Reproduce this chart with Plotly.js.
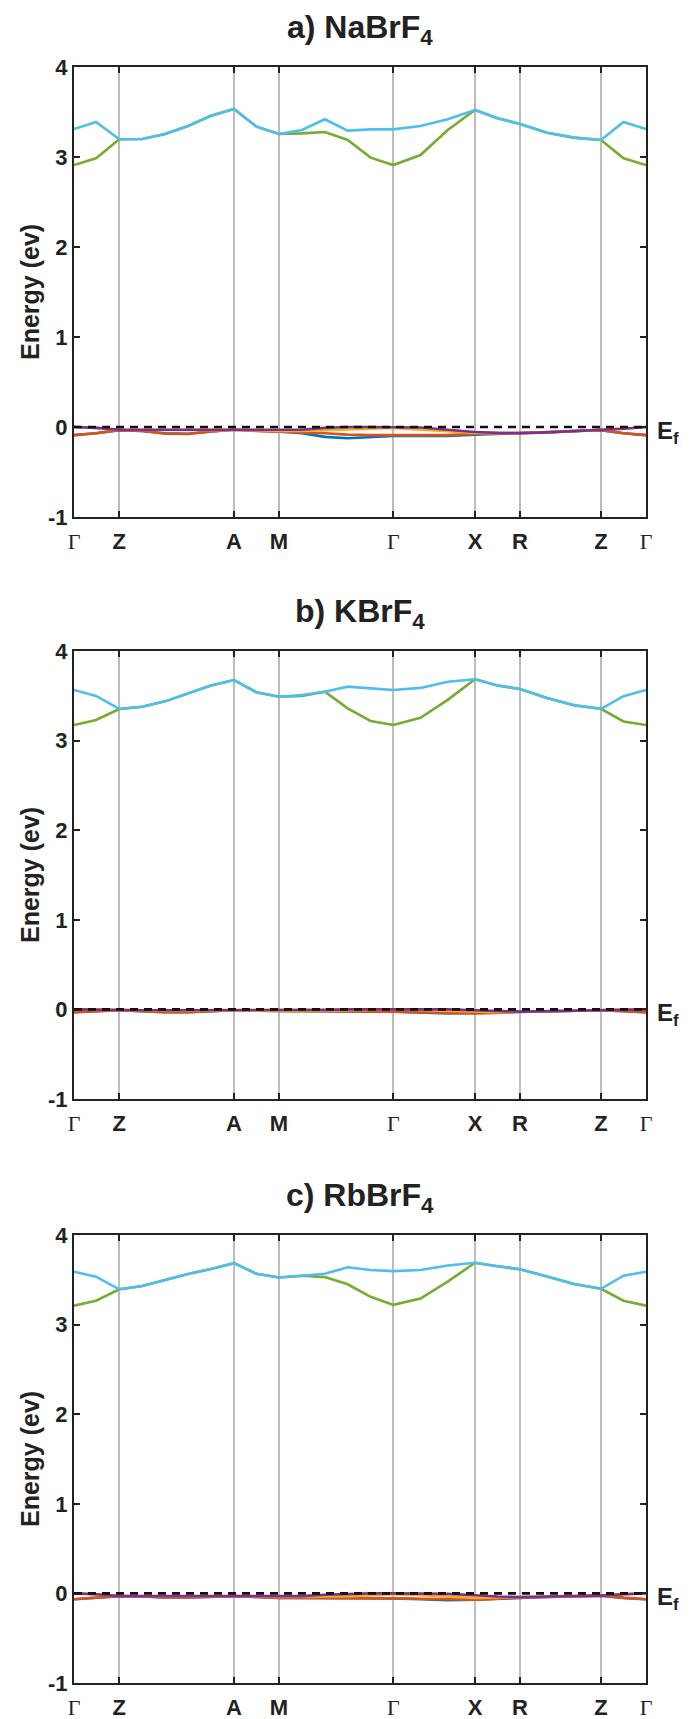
<!DOCTYPE html>
<html>
<head>
<meta charset="utf-8">
<script src="https://cdn.plot.ly/plotly-3.0.1.min.js"></script>
<style>html,body{margin:0;padding:0;background:#fff}</style>
</head>
<body>
<div id="chart" style="width:697px;height:1719px"></div>
<script>
// k-path coordinates (arbitrary path-length units)
const kPath = [0, 0.22, 0.453, 0.682, 0.911, 1.14, 1.37, 1.60, 1.825, 2.05, 2.279, 2.508, 2.737, 2.966, 3.193, 3.465, 3.737, 4.01, 4.235, 4.46, 4.73, 5.0, 5.27, 5.495, 5.72];
const kTickVals = [0, 0.453, 1.60, 2.05, 3.193, 4.01, 4.46, 5.27, 5.72];
const kTickLabels = ['Γ', 'Z', 'A', 'M', 'Γ', 'X', 'R', 'Z', 'Γ'];
const energyTickVals = [-1, 0, 1, 2, 3, 4];
const energyTickLabels = ['-1', '0', '1', '2', '3', '4'];
const panelTitles = ['a) NaBrF<sub>4</sub>', 'b) KBrF<sub>4</sub>', 'c) RbBrF<sub>4</sub>'];
const fermiLevel = 0;

// a) NaBrF4
const naBand1 = [-0.09,-0.07,-0.035,-0.045,-0.07,-0.075,-0.05,-0.03,-0.04,-0.05,-0.07,-0.11,-0.125,-0.11,-0.1,-0.1,-0.1,-0.085,-0.075,-0.07,-0.06,-0.045,-0.035,-0.07,-0.09];
const naBand2 = [-0.09,-0.07,-0.035,-0.045,-0.075,-0.078,-0.05,-0.03,-0.045,-0.05,-0.06,-0.07,-0.085,-0.09,-0.09,-0.09,-0.09,-0.075,-0.07,-0.07,-0.06,-0.045,-0.035,-0.07,-0.09];
const naBand3 = [0,-0.01,-0.03,-0.03,-0.03,-0.03,-0.03,-0.03,-0.035,-0.045,-0.045,-0.035,-0.03,-0.02,-0.01,-0.03,-0.05,-0.065,-0.07,-0.07,-0.06,-0.045,-0.035,-0.02,0];
const naBand4 = [0,-0.01,-0.03,-0.03,-0.03,-0.03,-0.03,-0.03,-0.03,-0.035,-0.03,-0.01,0,0,0,-0.005,-0.03,-0.055,-0.065,-0.07,-0.06,-0.045,-0.035,-0.02,0];
const naBand5 = [2.911,2.985,3.197,3.20,3.256,3.344,3.459,3.533,3.337,3.256,3.263,3.278,3.189,2.993,2.911,3.022,3.30,3.522,3.43,3.367,3.27,3.215,3.189,2.985,2.911];
const naBand6 = [3.31,3.39,3.197,3.20,3.256,3.344,3.459,3.533,3.337,3.256,3.30,3.419,3.293,3.307,3.307,3.344,3.419,3.522,3.43,3.367,3.27,3.215,3.189,3.39,3.31];

// b) KBrF4
const kBand1 = [-0.03,-0.02,-0.01,-0.02,-0.03,-0.03,-0.02,-0.01,-0.015,-0.02,-0.02,-0.02,-0.025,-0.025,-0.025,-0.035,-0.045,-0.04,-0.035,-0.025,-0.02,-0.015,-0.01,-0.02,-0.03];
const kBand2 = [-0.03,-0.02,-0.01,-0.02,-0.03,-0.03,-0.02,-0.01,-0.015,-0.02,-0.02,-0.02,-0.025,-0.025,-0.025,-0.03,-0.04,-0.045,-0.04,-0.025,-0.02,-0.015,-0.01,-0.02,-0.03];
const kBand3 = [0,-0.005,-0.01,-0.012,-0.015,-0.015,-0.012,-0.01,-0.015,-0.02,-0.02,-0.015,-0.01,-0.005,0,-0.005,-0.015,-0.03,-0.03,-0.025,-0.02,-0.015,-0.01,-0.005,0];
const kBand4 = [0,-0.005,-0.01,-0.01,-0.01,-0.01,-0.01,-0.01,-0.01,-0.01,-0.01,-0.005,0,0,0,0,0,-0.01,-0.02,-0.025,-0.02,-0.015,-0.01,-0.005,0];
const kBand5 = [3.174,3.23,3.353,3.378,3.438,3.525,3.615,3.676,3.539,3.49,3.498,3.546,3.36,3.219,3.174,3.254,3.455,3.685,3.616,3.576,3.475,3.395,3.355,3.214,3.174];
const kBand6 = [3.565,3.498,3.353,3.378,3.438,3.525,3.615,3.676,3.539,3.49,3.509,3.546,3.602,3.583,3.565,3.588,3.656,3.685,3.616,3.576,3.475,3.395,3.355,3.496,3.565];

// c) RbBrF4
const rbBand1 = [-0.065,-0.05,-0.03,-0.035,-0.045,-0.045,-0.035,-0.03,-0.04,-0.05,-0.05,-0.05,-0.05,-0.055,-0.055,-0.065,-0.075,-0.07,-0.06,-0.045,-0.04,-0.035,-0.025,-0.05,-0.065];
const rbBand2 = [-0.065,-0.05,-0.03,-0.035,-0.045,-0.045,-0.035,-0.03,-0.04,-0.05,-0.05,-0.05,-0.05,-0.055,-0.055,-0.06,-0.065,-0.07,-0.06,-0.045,-0.04,-0.035,-0.025,-0.05,-0.065];
const rbBand3 = [0,-0.01,-0.03,-0.03,-0.035,-0.035,-0.03,-0.03,-0.035,-0.04,-0.04,-0.035,-0.03,-0.02,-0.01,-0.02,-0.035,-0.05,-0.045,-0.04,-0.035,-0.03,-0.025,-0.01,0];
const rbBand4 = [0,-0.01,-0.03,-0.03,-0.03,-0.03,-0.03,-0.03,-0.03,-0.035,-0.03,-0.015,-0.005,0,0,0,-0.005,-0.02,-0.035,-0.04,-0.035,-0.03,-0.025,-0.01,0];
const rbBand5 = [3.211,3.267,3.394,3.431,3.498,3.565,3.62,3.686,3.567,3.525,3.546,3.53,3.45,3.31,3.22,3.29,3.48,3.69,3.652,3.618,3.537,3.452,3.40,3.267,3.211];
const rbBand6 = [3.59,3.535,3.394,3.431,3.498,3.565,3.62,3.686,3.567,3.525,3.546,3.567,3.64,3.61,3.597,3.61,3.66,3.69,3.652,3.618,3.537,3.452,3.40,3.546,3.59];

const bandColors = ['#0072BD', '#D95319', '#EDB120', '#7E2F8E', '#77AC30', '#4DBEEE'];
const panels = [
  [naBand1, naBand2, naBand3, naBand4, naBand5, naBand6],
  [kBand1, kBand2, kBand3, kBand4, kBand5, kBand6],
  [rbBand1, rbBand2, rbBand3, rbBand4, rbBand5, rbBand6]
];

const W = 697, H = 1719;
const mL = 74, mR = 51, mT = 67, mB = 36;
const plotH = H - mT - mB;
const panelPix = [[67, 517], [651, 1099], [1235, 1683]];
const domains = panelPix.map(p => [(H - mB - p[1]) / plotH, (H - mB - p[0]) / plotH]);

const sans = 'Liberation Sans, Arial, Helvetica, sans-serif';
const xTickText = kTickLabels.map(l => l === 'Γ'
  ? '<span style="font-family:' + "'Liberation Serif'" + ';font-weight:normal">Γ</span>'
  : l);

const traces = [];
const layout = {
  width: W, height: H,
  margin: {l: mL, r: mR, t: mT, b: mB},
  paper_bgcolor: '#fff', plot_bgcolor: '#fff',
  showlegend: false,
  font: {family: sans, color: '#222'},
  annotations: [], shapes: []
};

panels.forEach((bands, p) => {
  const sfx = p === 0 ? '' : String(p + 1);
  bands.forEach((b, i) => {
    traces.push({
      x: kPath, y: b, type: 'scatter', mode: 'lines',
      xaxis: 'x' + sfx, yaxis: 'y' + sfx,
      line: {color: bandColors[i], width: 2.6}, hoverinfo: 'skip'
    });
  });
  layout['xaxis' + sfx] = {
    domain: [0, 1], anchor: 'y' + sfx,
    range: [kTickVals[0], kTickVals[kTickVals.length - 1]],
    tickmode: 'array', tickvals: kTickVals, ticktext: xTickText,
    ticks: 'inside', ticklen: 6, tickwidth: 2, tickcolor: '#222',
    showline: true, linecolor: '#222', linewidth: 2, mirror: 'ticks',
    showgrid: true, gridcolor: '#bdbdbd', gridwidth: 2,
    zeroline: false,
    tickfont: {family: sans, size: 22, color: '#222', weight: 'bold'},
    ticklabelstandoff: 4
  };
  layout['yaxis' + sfx] = {
    domain: domains[p], anchor: 'x' + sfx,
    range: [energyTickVals[0], energyTickVals[energyTickVals.length - 1]],
    tickmode: 'array', tickvals: energyTickVals, ticktext: energyTickLabels,
    ticks: 'inside', ticklen: 6, tickwidth: 2, tickcolor: '#222',
    showline: true, linecolor: '#222', linewidth: 2, mirror: 'ticks',
    showgrid: false, zeroline: false,
    tickfont: {family: sans, size: 22, color: '#222', weight: 'bold'}
  };
  layout.shapes.push({
    type: 'line', xref: 'x' + sfx + ' domain', yref: 'y' + sfx,
    x0: 0, x1: 1, y0: fermiLevel, y1: fermiLevel,
    line: {color: '#111', width: 2.6, dash: '8px,6px'}, layer: 'above'
  });
  layout.annotations.push({
    text: panelTitles[p], xref: 'paper', yref: 'paper',
    x: 0.5, y: domains[p][1], xanchor: 'center', yanchor: 'bottom', yshift: 15,
    showarrow: false, font: {family: sans, size: 32, color: '#222', weight: 'bold'}
  });
  layout.annotations.push({
    text: 'Energy (ev)', xref: 'paper', yref: 'paper',
    x: 0, y: (domains[p][0] + domains[p][1]) / 2, xanchor: 'center', yanchor: 'middle',
    xshift: -44, textangle: -90,
    showarrow: false, font: {family: sans, size: 25, color: '#222', weight: 'bold'}
  });
  layout.annotations.push({
    text: 'E<sub>f</sub>', xref: 'paper', yref: 'y' + sfx,
    x: 1, y: fermiLevel, xanchor: 'left', yanchor: 'top', xshift: 9, yshift: 12,
    showarrow: false, font: {family: sans, size: 24, color: '#222', weight: 'bold'}
  });
});

Plotly.newPlot('chart', traces, layout, {staticPlot: true, displayModeBar: false});
</script>
</body>
</html>
